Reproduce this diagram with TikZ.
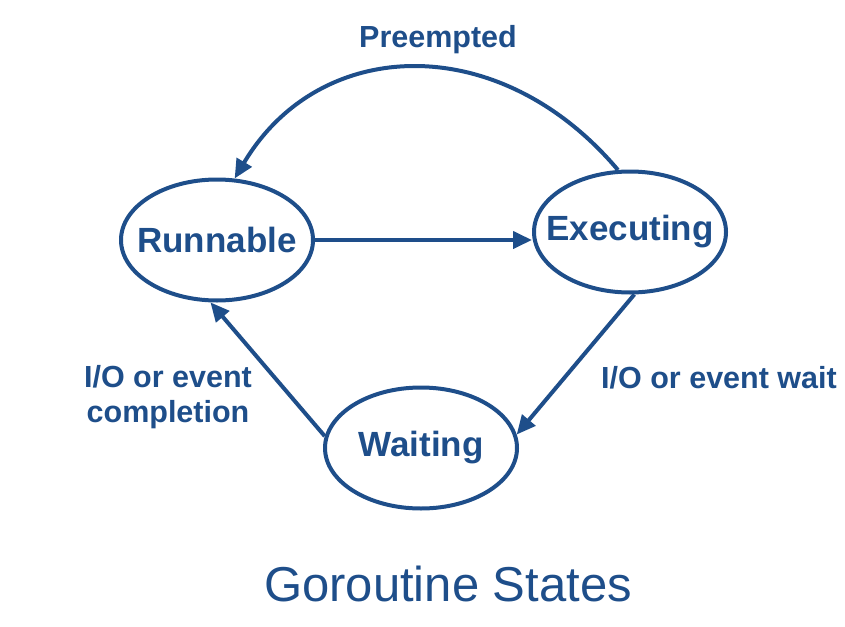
\documentclass[tikz,border=0pt]{standalone}
\usepackage{fontspec}
\setmainfont{Liberation Sans}
\usetikzlibrary{shapes.geometric,arrows.meta}
\definecolor{gblue}{RGB}{30,78,138}
\begin{document}
\begin{tikzpicture}[x=1pt,y=-1pt,
  state/.style={ellipse,draw=gblue,line width=4pt,minimum width=192pt,minimum height=121pt,inner sep=0pt,
    text=gblue,font=\fontsize{35}{40}\selectfont\bfseries},
  lbl/.style={text=gblue,font=\fontsize{30.5}{35}\selectfont\bfseries,inner sep=0pt,align=center},
  arr/.style={draw=gblue,line width=4pt,-{Triangle[length=19pt,width=17pt]}}]
\useasboundingbox (0,0) rectangle (845,626);
\node[state] (R) at (217,240) {\makebox[0pt]{Runnable}};
\node[state] (E) at (630,232) {\makebox[0pt]{Executing}};
\node[state] (W) at (421,448) {\makebox[0pt]{Waiting}};
\draw[arr] (R.east) -- (R.east -| E.west);
\draw[arr] (E.101) .. controls (500,30) and (320,35) .. (R.74);
\draw[arr] (W.173) -- (R.264);
\draw[arr] (E.274) -- (W.8);
\node[lbl] (lp) at (438,40) {Preempted};
\node[lbl] (lc) at (168,397) {I/O or event\\completion};
\node[lbl] (lw) at (719,378) {I/O or event wait};
\node[text=gblue,font=\fontsize{49}{52}\selectfont,inner sep=0pt] (t) at (448,584) {Goroutine States};
\end{tikzpicture}
\end{document}
